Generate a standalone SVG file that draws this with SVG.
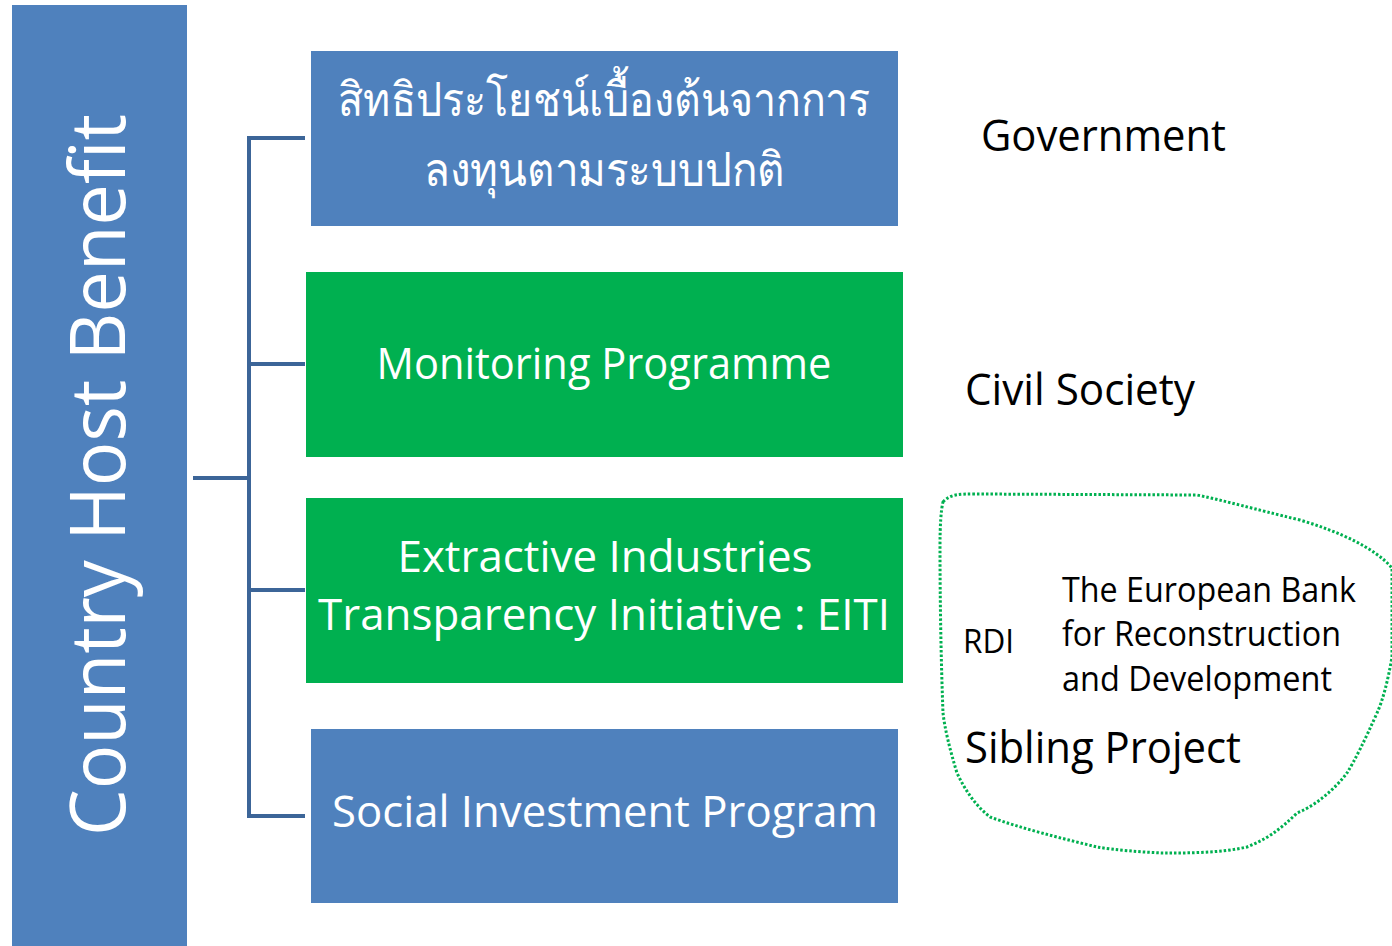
<svg xmlns="http://www.w3.org/2000/svg" width="1392" height="946" viewBox="0 0 1392 946">
<style>
.blue{fill:#4F81BD}
.green{fill:#00B050}
.wt{fill:#FFFFFF;font-family:"Open Sans","Noto Sans",sans-serif;text-anchor:middle}
.bk{fill:#000000;font-family:"Open Sans","Noto Sans",sans-serif}
.conn{fill:none;stroke:#3C6598;stroke-width:4;stroke-linejoin:miter}
</style>
<rect width="1392" height="946" fill="#FFFFFF"/>
<g id="root">
<rect class="blue" x="12" y="5" width="175" height="941"/>
<text class="wt" style="text-anchor:start" font-size="76" transform="translate(125,836) rotate(-90)" x="0" y="0" textLength="722" lengthAdjust="spacingAndGlyphs">Country Host Benefit</text>
</g>
<g id="connectors">
<path class="conn" d="M193,478 H249 M305,138 H249 V816 H305 M249,364 H305 M249,590 H305"/>
</g>
<g id="node-thai">
<rect class="blue" x="311" y="51" width="587" height="175"/>
<text class="wt" font-size="47" x="604" y="116" textLength="532" lengthAdjust="spacingAndGlyphs">สิทธิประโยชน์เบื้องต้นจากการ</text>
<text class="wt" font-size="47" x="604" y="186" textLength="361" lengthAdjust="spacingAndGlyphs">ลงทุนตามระบบปกติ</text>
</g>
<g id="node-monitoring">
<rect class="green" x="306" y="272" width="597" height="185"/>
<text class="wt" font-size="44" x="604" y="379" textLength="455" lengthAdjust="spacingAndGlyphs">Monitoring Programme</text>
</g>
<g id="node-eiti">
<rect class="green" x="306" y="498" width="597" height="185"/>
<text class="wt" font-size="44" x="605" y="572" textLength="415" lengthAdjust="spacingAndGlyphs">Extractive Industries</text>
<text class="wt" font-size="44" x="604" y="630" textLength="572" lengthAdjust="spacingAndGlyphs">Transparency Initiative : EITI</text>
</g>
<g id="node-social">
<rect class="blue" x="311" y="729" width="587" height="174"/>
<text class="wt" font-size="44" x="605" y="827" textLength="546" lengthAdjust="spacingAndGlyphs">Social Investment Program</text>
</g>
<g id="label-government">
<text class="bk" font-size="44" x="981" y="151" textLength="245" lengthAdjust="spacingAndGlyphs">Government</text>
</g>
<g id="label-civil">
<text class="bk" font-size="44" x="965" y="405" textLength="230" lengthAdjust="spacingAndGlyphs">Civil Society</text>
</g>
<g id="sibling-group">
<path d="M943,502 C950,494 960,494 975,494 L1197,495 C1230,502 1250,508 1300,520 C1340,532 1375,548 1392,568 L1392,657 C1388,680 1383,700 1377,713 C1365,740 1355,760 1347,773 C1330,795 1310,808 1297,813 C1280,830 1265,840 1247,847 C1220,853 1190,853 1163,853 C1140,852 1115,850 1097,847 C1060,838 1020,828 990,817 C975,805 965,790 957,773 C950,750 945,730 943,713 C941,660 940,600 940,547 C940,525 941,510 943,502 Z" fill="none" stroke="#00B050" stroke-width="3" stroke-dasharray="2.5 2"/>
<text class="bk" font-size="32" x="963" y="653" textLength="51" lengthAdjust="spacingAndGlyphs">RDI</text>
<text class="bk" font-size="34" x="1062" y="602" textLength="294" lengthAdjust="spacingAndGlyphs">The European Bank</text>
<text class="bk" font-size="34" x="1062" y="646" textLength="279" lengthAdjust="spacingAndGlyphs">for Reconstruction</text>
<text class="bk" font-size="34" x="1062" y="691" textLength="270" lengthAdjust="spacingAndGlyphs">and Development</text>
<text class="bk" font-size="44" x="965" y="763" textLength="276" lengthAdjust="spacingAndGlyphs">Sibling Project</text>
</g>
</svg>
